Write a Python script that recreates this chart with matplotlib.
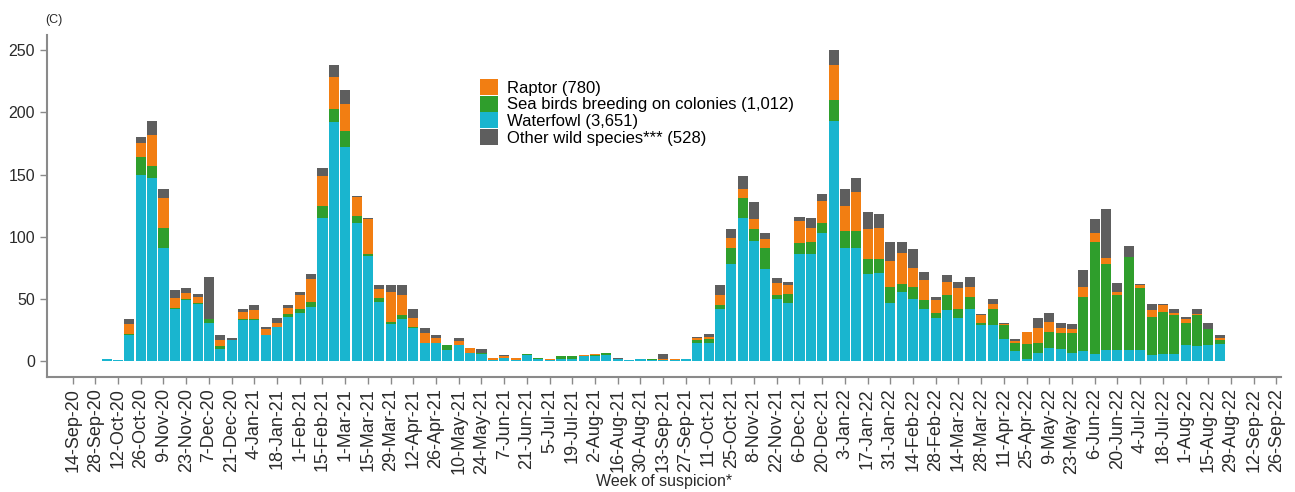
import matplotlib
matplotlib.use("Agg")
import matplotlib.pyplot as plt
from matplotlib.patches import Patch
import numpy as np
import pandas as pd

plt.rcParams["font.family"] = ["Liberation Sans", "DejaVu Sans"]

# Weekly counts of HPAI detections in wild birds, stacked by group
first_week = "5-Oct-20"

waterfowl = [2, 1, 21, 150, 147, 91, 42, 49, 46, 31,
             10, 17, 33, 33, 21, 28, 36, 39, 44, 115,
             192, 172, 111, 85, 48, 30, 34, 27, 15, 15,
             9, 13, 7, 6, 1, 3, 1, 5, 2, 1,
             2, 2, 4, 4, 5, 2, 1, 2, 1, 1,
             1, 2, 15, 15, 42, 78, 115, 97, 74, 50,
             47, 86, 86, 103, 193, 91, 91, 70, 71, 47,
             56, 50, 42, 35, 41, 35, 42, 29, 29, 18,
             8, 2, 7, 11, 10, 7, 8, 6, 9, 9,
             9, 9, 5, 6, 6, 13, 12, 13, 14]
sea_birds = [0, 0, 1, 14, 10, 16, 1, 1, 1, 3,
             2, 0, 1, 1, 0, 0, 2, 3, 4, 10,
             11, 13, 6, 1, 3, 2, 3, 1, 0, 0,
             4, 0, 0, 1, 0, 0, 0, 1, 1, 0,
             2, 2, 0, 1, 2, 0, 0, 0, 1, 0,
             0, 0, 2, 3, 3, 13, 16, 9, 17, 3,
             7, 9, 10, 8, 17, 14, 14, 12, 11, 13,
             6, 10, 7, 4, 12, 7, 10, 2, 13, 11,
             7, 12, 8, 13, 13, 16, 44, 90, 69, 44,
             75, 50, 31, 34, 31, 18, 25, 13, 3]
raptor = [0, 0, 8, 11, 25, 24, 8, 5, 5, 0,
          5, 0, 6, 7, 5, 3, 5, 11, 18, 24,
          25, 22, 15, 28, 7, 24, 16, 7, 8, 4,
          0, 3, 4, 0, 2, 1, 2, 0, 0, 1,
          0, 0, 1, 1, 0, 0, 0, 0, 0, 1,
          1, 0, 2, 2, 8, 8, 7, 8, 7, 10,
          7, 18, 11, 18, 28, 20, 31, 24, 25, 21,
          25, 15, 16, 10, 11, 17, 8, 6, 4, 1,
          1, 10, 12, 8, 4, 3, 8, 7, 5, 3,
          0, 2, 5, 5, 2, 3, 1, 0, 2]
other = [0, 0, 4, 5, 11, 7, 6, 4, 2, 34,
         4, 2, 2, 4, 2, 4, 2, 3, 4, 6,
         10, 11, 1, 1, 3, 5, 8, 7, 4, 2,
         0, 3, 0, 3, 0, 1, 0, 0, 0, 0,
         0, 0, 0, 0, 0, 1, 0, 0, 0, 4,
         0, 0, 1, 2, 8, 7, 11, 14, 5, 4,
         3, 3, 8, 5, 12, 13, 11, 14, 11, 15,
         9, 15, 7, 3, 5, 5, 8, 1, 4, 1,
         2, 0, 8, 7, 4, 4, 13, 11, 39, 7,
         9, 1, 5, 1, 3, 2, 4, 5, 2]

legend_labels = ["Raptor (780)", "Sea birds breeding on colonies (1,012)",
                 "Waterfowl (3,651)", "Other wild species*** (528)"]

tick_labels = ["14-Sep-20", "28-Sep-20", "12-Oct-20", "26-Oct-20", "9-Nov-20",
               "23-Nov-20", "7-Dec-20", "21-Dec-20", "4-Jan-21", "18-Jan-21",
               "1-Feb-21", "15-Feb-21", "1-Mar-21", "15-Mar-21", "29-Mar-21",
               "12-Apr-21", "26-Apr-21", "10-May-21", "24-May-21", "7-Jun-21",
               "21-Jun-21", "5-Jul-21", "19-Jul-21", "2-Aug-21", "16-Aug-21",
               "30-Aug-21", "13-Sep-21", "27-Sep-21", "11-Oct-21", "25-Oct-21",
               "8-Nov-21", "22-Nov-21", "6-Dec-21", "20-Dec-21", "3-Jan-22",
               "17-Jan-22", "31-Jan-22", "14-Feb-22", "28-Feb-22", "14-Mar-22",
               "28-Mar-22", "11-Apr-22", "25-Apr-22", "9-May-22", "23-May-22",
               "6-Jun-22", "20-Jun-22", "4-Jul-22", "18-Jul-22", "1-Aug-22",
               "15-Aug-22", "29-Aug-22", "12-Sep-22", "26-Sep-22"]

col_raptor = "#F27E12"
col_sea = "#2F9E2C"
col_water = "#19B5CF"
col_other = "#5E5E5E"

weeks = pd.date_range(pd.to_datetime(first_week, format="%d-%b-%y"),
                      periods=len(waterfowl), freq="7D")
tick_dates = pd.to_datetime(tick_labels, format="%d-%b-%y")

fig = plt.figure(figsize=(12.95, 4.92), dpi=100)
ax = fig.add_axes([47 / 1295, 115 / 492, 1234 / 1295, 342 / 492])

w = np.array(waterfowl)
s = np.array(sea_birds)
r = np.array(raptor)
o = np.array(other)
bw = pd.Timedelta(days=6.2)

ax.bar(weeks, w, width=bw, color=col_water, linewidth=0)
ax.bar(weeks, s, width=bw, bottom=w, color=col_sea, linewidth=0)
ax.bar(weeks, r, width=bw, bottom=w + s, color=col_raptor, linewidth=0)
ax.bar(weeks, o, width=bw, bottom=w + s + r, color=col_other, linewidth=0)

ax.set_xlim(tick_dates[0] - pd.Timedelta(days=15.8),
            tick_dates[-1] + pd.Timedelta(days=2.8))
ax.set_ylim(-12.5, 262)
ax.set_yticks([0, 50, 100, 150, 200, 250])
ax.set_xticks(tick_dates)
ax.set_xticklabels(tick_labels, rotation=90, fontsize=13, color="#2a2a2a")
ax.tick_params(axis="y", labelsize=11.5, labelcolor="#2a2a2a", length=5,
               color="#8a8a8a", width=1)
ax.tick_params(axis="x", length=5, color="#8a8a8a", width=1, pad=3)

for side in ("top", "right"):
    ax.spines[side].set_visible(False)
for side in ("left", "bottom"):
    ax.spines[side].set_color("#8a8a8a")
    ax.spines[side].set_linewidth(1.5)

ax.set_xlabel("Week of suspicion*", fontsize=11.5, color="#2a2a2a", labelpad=0)

handles = [Patch(facecolor=col_raptor), Patch(facecolor=col_sea),
           Patch(facecolor=col_water), Patch(facecolor=col_other)]
fig.legend(handles, legend_labels, loc="upper left",
           bbox_to_anchor=(480 / 1295, 1 - 79 / 492), frameon=False,
           fontsize=12, handlelength=1.08, handleheight=1.1,
           labelspacing=0.0, handletextpad=0.55, borderpad=0,
           borderaxespad=0)

fig.text(45 / 1295, 1 - 20 / 492, "(C)", fontsize=9, color="#2a2a2a",
         va="center", ha="left")

fig.savefig("out.png", dpi=100)
